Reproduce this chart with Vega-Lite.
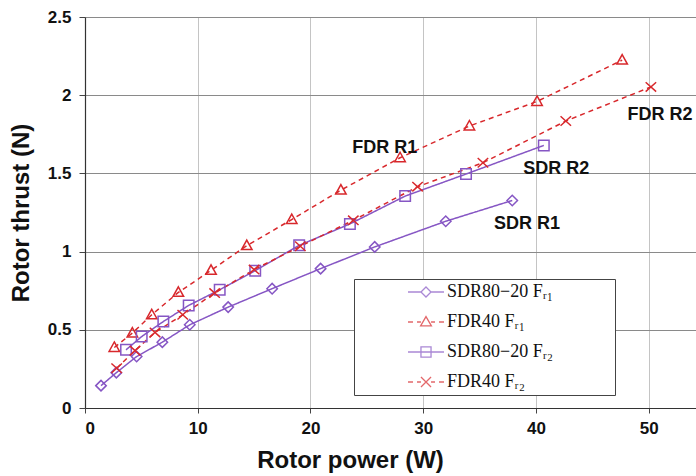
{
  "$schema": "https://vega.github.io/schema/vega-lite/v6.json",
  "width": 611,
  "height": 391,
  "autosize": {"type": "none"},
  "padding": {"left": 85, "top": 17, "right": 0, "bottom": 68},
  "background": "white",
  "config": {
    "view": {"stroke": null},
    "axis": {"labelFont": "Liberation Sans", "titleFont": "Liberation Sans", "labelFontWeight": "bold", "titleFontWeight": "bold", "labelColor": "#111", "titleColor": "#111"}
  },
  "datasets": {
    "curves": [
      {"series": "SDR80−20  Fᵣ₁", "power": 1.42, "thrust": 0.143},
      {"series": "SDR80−20  Fᵣ₁", "power": 2.78, "thrust": 0.226},
      {"series": "SDR80−20  Fᵣ₁", "power": 4.58, "thrust": 0.329},
      {"series": "SDR80−20  Fᵣ₁", "power": 6.86, "thrust": 0.421},
      {"series": "SDR80−20  Fᵣ₁", "power": 9.29, "thrust": 0.532},
      {"series": "SDR80−20  Fᵣ₁", "power": 12.7, "thrust": 0.645},
      {"series": "SDR80−20  Fᵣ₁", "power": 16.6, "thrust": 0.763},
      {"series": "SDR80−20  Fᵣ₁", "power": 20.9, "thrust": 0.891},
      {"series": "SDR80−20  Fᵣ₁", "power": 25.7, "thrust": 1.03},
      {"series": "SDR80−20  Fᵣ₁", "power": 32.0, "thrust": 1.194},
      {"series": "SDR80−20  Fᵣ₁", "power": 37.9, "thrust": 1.327},
      {"series": "FDR40  Fᵣ₁", "power": 2.6, "thrust": 0.387},
      {"series": "FDR40  Fᵣ₁", "power": 4.2, "thrust": 0.479},
      {"series": "FDR40  Fᵣ₁", "power": 5.92, "thrust": 0.596},
      {"series": "FDR40  Fᵣ₁", "power": 8.28, "thrust": 0.739},
      {"series": "FDR40  Fᵣ₁", "power": 11.18, "thrust": 0.88},
      {"series": "FDR40  Fᵣ₁", "power": 14.35, "thrust": 1.038},
      {"series": "FDR40  Fᵣ₁", "power": 18.34, "thrust": 1.205},
      {"series": "FDR40  Fᵣ₁", "power": 22.7, "thrust": 1.393},
      {"series": "FDR40  Fᵣ₁", "power": 27.95, "thrust": 1.6},
      {"series": "FDR40  Fᵣ₁", "power": 34.1, "thrust": 1.803},
      {"series": "FDR40  Fᵣ₁", "power": 40.1, "thrust": 1.96},
      {"series": "FDR40  Fᵣ₁", "power": 47.65, "thrust": 2.224},
      {"series": "SDR80−20  Fᵣ₂", "power": 3.64, "thrust": 0.372},
      {"series": "SDR80−20  Fᵣ₂", "power": 5.03, "thrust": 0.457},
      {"series": "SDR80−20  Fᵣ₂", "power": 6.95, "thrust": 0.553},
      {"series": "SDR80−20  Fᵣ₂", "power": 9.2, "thrust": 0.656},
      {"series": "SDR80−20  Fᵣ₂", "power": 11.95, "thrust": 0.756},
      {"series": "SDR80−20  Fᵣ₂", "power": 15.1, "thrust": 0.878},
      {"series": "SDR80−20  Fᵣ₂", "power": 19.0, "thrust": 1.04},
      {"series": "SDR80−20  Fᵣ₂", "power": 23.5, "thrust": 1.177},
      {"series": "SDR80−20  Fᵣ₂", "power": 28.4, "thrust": 1.355},
      {"series": "SDR80−20  Fᵣ₂", "power": 33.8, "thrust": 1.496},
      {"series": "SDR80−20  Fᵣ₂", "power": 40.7, "thrust": 1.679},
      {"series": "FDR40  Fᵣ₂", "power": 2.81, "thrust": 0.254},
      {"series": "FDR40  Fᵣ₂", "power": 4.44, "thrust": 0.367},
      {"series": "FDR40  Fᵣ₂", "power": 6.21, "thrust": 0.483},
      {"series": "FDR40  Fᵣ₂", "power": 8.67, "thrust": 0.596},
      {"series": "FDR40  Fᵣ₂", "power": 11.5, "thrust": 0.735},
      {"series": "FDR40  Fᵣ₂", "power": 15.0, "thrust": 0.885},
      {"series": "FDR40  Fᵣ₂", "power": 19.1, "thrust": 1.034},
      {"series": "FDR40  Fᵣ₂", "power": 23.8, "thrust": 1.2},
      {"series": "FDR40  Fᵣ₂", "power": 29.5, "thrust": 1.415},
      {"series": "FDR40  Fᵣ₂", "power": 35.3, "thrust": 1.568},
      {"series": "FDR40  Fᵣ₂", "power": 42.65, "thrust": 1.835},
      {"series": "FDR40  Fᵣ₂", "power": 50.2, "thrust": 2.053}
    ],
    "notes": [
      {"text": "FDR R1", "power": 26.6, "thrust": 1.665},
      {"text": "SDR R2", "power": 41.8, "thrust": 1.525},
      {"text": "SDR R1", "power": 39.2, "thrust": 1.178},
      {"text": "FDR R2", "power": 51.0, "thrust": 1.875}
    ]
  },
  "resolve": {"scale": {"color": "independent", "shape": "independent", "strokeDash": "independent"}},
  "layer": [
    {
      "data": {"name": "curves"},
      "mark": {"type": "line", "strokeWidth": 1.5, "clip": true},
      "encoding": {
        "x": {"field": "power", "type": "quantitative", "scale": {"domain": [0, 54.2], "nice": false},
          "axis": {"values": [0, 10, 20, 30, 40, 50], "title": "Rotor power (W)", "titleFontSize": 24, "labelFontSize": 17, "labelPadding": 7, "tickSize": 5, "tickColor": "#444", "domainColor": "#333", "domainWidth": 1.2, "gridColor": "#c4c4c4", "gridWidth": 1, "titleX": 265, "titlePadding": 12}},
        "y": {"field": "thrust", "type": "quantitative", "scale": {"domain": [0, 2.5], "nice": false},
          "axis": {"values": [0, 0.5, 1, 1.5, 2, 2.5], "format": "~g", "title": "Rotor thrust (N)", "titleFontSize": 24, "labelFontSize": 17, "labelPadding": 8, "tickSize": 6, "tickColor": "#444", "domainColor": "#333", "domainWidth": 1.2, "gridColor": "#8a8a8a", "gridWidth": 1, "titlePadding": 14}},
        "detail": {"field": "series"},
        "color": {"field": "series", "type": "nominal", "legend": null,
          "scale": {"domain": ["SDR80−20  Fᵣ₁", "FDR40  Fᵣ₁", "SDR80−20  Fᵣ₂", "FDR40  Fᵣ₂"], "range": ["#8656c4", "#d8282c", "#8656c4", "#d8282c"]}},
        "strokeDash": {"field": "series", "type": "nominal", "legend": null,
          "scale": {"domain": ["SDR80−20  Fᵣ₁", "FDR40  Fᵣ₁", "SDR80−20  Fᵣ₂", "FDR40  Fᵣ₂"], "range": [[1, 0], [5, 4], [1, 0], [5, 4]]}}
      }
    },
    {
      "data": {"name": "curves"},
      "mark": {"type": "point", "filled": false, "strokeWidth": 1.5, "size": 110, "opacity": 1},
      "encoding": {
        "x": {"field": "power", "type": "quantitative"},
        "y": {"field": "thrust", "type": "quantitative"},
        "color": {"field": "series", "type": "nominal", "legend": null,
          "scale": {"domain": ["SDR80−20  Fᵣ₁", "FDR40  Fᵣ₁", "SDR80−20  Fᵣ₂", "FDR40  Fᵣ₂"], "range": ["#8656c4", "#d8282c", "#8656c4", "#d8282c"]}},
        "shape": {"field": "series", "type": "nominal", "legend": null,
          "scale": {"domain": ["SDR80−20  Fᵣ₁", "FDR40  Fᵣ₁", "SDR80−20  Fᵣ₂", "FDR40  Fᵣ₂"], "range": ["diamond", "M0,-1.05L1,0.75L-1,0.75Z", "square", "M-1,-0.9L1,0.9M-1,0.9L1,-0.9"]}}
      }
    },
    {
      "data": {"name": "notes"},
      "mark": {"type": "text", "font": "Liberation Sans", "fontWeight": "bold", "fontSize": 18, "color": "#111"},
      "encoding": {
        "x": {"field": "power", "type": "quantitative"},
        "y": {"field": "thrust", "type": "quantitative"},
        "text": {"field": "text"}
      }
    },
    {
      "data": {"name": "curves"},
      "transform": [{"filter": "false"}],
      "mark": {"type": "point", "filled": false, "strokeWidth": 1.3},
      "encoding": {
        "x": {"field": "power", "type": "quantitative"},
        "y": {"field": "thrust", "type": "quantitative"},
        "color": {"field": "series", "type": "nominal",
          "scale": {"domain": ["SDR80−20  Fᵣ₁", "FDR40  Fᵣ₁", "SDR80−20  Fᵣ₂", "FDR40  Fᵣ₂"], "range": ["#8656c4", "#d8282c", "#8656c4", "#d8282c"]},
          "legend": {"orient": "none", "legendX": 269, "legendY": 262, "title": "\u00a0", "titleOrient": "right", "titlePadding": 57, "titleFontSize": 1, "padding": 0, "strokeColor": "#444", "fillColor": "white",
            "symbolSize": 1296, "symbolOffset": 53, "labelOffset": 2, "clipHeight": 26, "rowPadding": 4, "symbolStrokeWidth": 1.3,
            "labelFont": "Liberation Serif", "labelFontSize": 18, "labelColor": "#111", "labelLimit": 400}},
        "shape": {"field": "series", "type": "nominal",
          "scale": {"domain": ["SDR80−20  Fᵣ₁", "FDR40  Fᵣ₁", "SDR80−20  Fᵣ₂", "FDR40  Fᵣ₂"], "range": [
            "M-1,0H-0.28M0.28,0H1M0,-0.28L0.28,0L0,0.28L-0.28,0Z",
            "M-1,0H-0.72M-0.5,0H-0.28M0.28,0H0.5M0.72,0H1M0,-0.3L0.3,0.22L-0.3,0.22Z",
            "M-1,0H1M-0.28,-0.28H0.28V0.28H-0.28Z",
            "M-1,0H-0.72M-0.5,0H-0.28M0.28,0H0.5M0.72,0H1M-0.28,-0.28L0.28,0.28M-0.28,0.28L0.28,-0.28"]},
          "legend": {"orient": "none", "legendX": 269, "legendY": 262, "title": "\u00a0", "titleOrient": "right", "titlePadding": 57, "titleFontSize": 1, "padding": 0, "strokeColor": "#444", "fillColor": "white",
            "symbolSize": 1296, "symbolOffset": 53, "labelOffset": 2, "clipHeight": 26, "rowPadding": 4, "symbolStrokeWidth": 1.3,
            "labelFont": "Liberation Serif", "labelFontSize": 18, "labelColor": "#111", "labelLimit": 400}}
      }
    }
  ]
}
